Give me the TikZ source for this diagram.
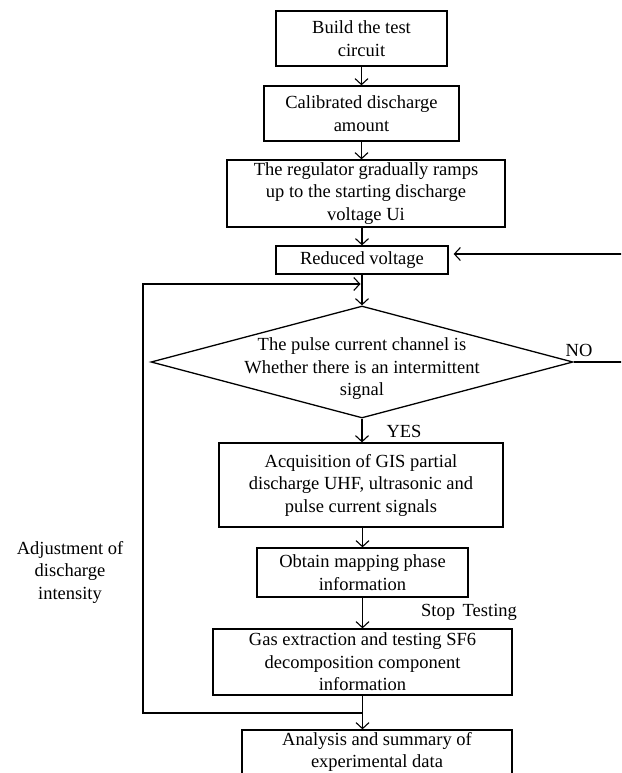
\documentclass[tikz,border=0pt]{standalone}
\usepackage{fontspec}
\setmainfont{Liberation Serif}
\usetikzlibrary{shapes.geometric}
\usetikzlibrary{arrows.meta}

\begin{document}
\begin{tikzpicture}[x=1pt,y=-1pt,line width=1.3pt,
    font=\fontsize{18.5}{22.5}\selectfont,
    box/.style={draw, rectangle, align=center, inner sep=0pt},
    arr/.style={-{Straight Barb[length=6pt,width=13pt,line width=1.1pt]}},
    lbl/.style={inner sep=0pt, align=center}
]
\useasboundingbox (0,0) rectangle (621,773);
\clip (0,0) rectangle (621,773);
\node[box, minimum width=171pt, minimum height=55pt] (build) at (361.5,38.5) {Build the test\\circuit};
\node[box, minimum width=195pt, minimum height=55pt] (calib) at (361.5,113.5) {Calibrated discharge\\amount};
\node[box, minimum width=278pt, minimum height=67pt] (ramp) at (366,193.5) {The regulator gradually ramps\\up to the starting discharge\\voltage Ui};
\node[box, minimum width=172pt, minimum height=28pt] (reduce) at (362,260) {Reduced voltage};
\node[draw, diamond, minimum width=422pt, minimum height=112pt, inner sep=0pt] (check) at (362,362) {};
\node[lbl] (checktext) at (362,369) {The pulse current channel is\\Whether there is an intermittent\\signal};
\node[box, minimum width=284pt, minimum height=84pt] (acquire) at (361,485) {Acquisition of GIS partial\\discharge UHF, ultrasonic and\\pulse current signals};
\node[box, minimum width=211pt, minimum height=49pt] (mapping) at (362.5,572.5) {Obtain mapping phase\\information};
\node[box, minimum width=299pt, minimum height=66pt] (gas) at (362.5,662) {Gas extraction and testing SF6\\decomposition component\\information};
\node[box, minimum width=270pt, minimum height=56pt] (summary) at (377,758) {};
\node[lbl] (summarytext) at (377,752) {Analysis and summary of\\experimental data};

\node[lbl] (no) at (579,350) {NO};
\node[lbl] (yes) at (404,431) {YES};
\node[lbl] (stop) at (469,612) {Stop\, Testing};
\node[lbl] (adjust) at (70,572) {Adjustment of\\discharge\\intensity};

\coordinate (fbtop) at (143,284);
\coordinate (fbbot) at (143,713);
\coordinate (noend) at (622,362);
\coordinate (back) at (622,254);

\draw[arr] (build) -- (calib);
\draw[arr] (calib.south) -- (ramp.north -| calib.south);
\draw[arr] (ramp.south -| reduce.north) -- (reduce.north);
\draw[arr] (reduce) -- (check.north);
\draw[arr] (check.south) -- (acquire.north -| check.south);
\draw[arr] (acquire.south -| mapping.north) -- (mapping.north);
\draw[arr] (mapping) -- (gas);
\draw[arr] (gas.south) -- (summary.north -| gas.south);
\draw[arr, shorten >=1.5pt] (fbbot -| gas.south) -- (fbbot) -- (fbtop) -- (fbtop -| reduce.south);
\draw (check.east) -- (noend);
\draw[arr, shorten >=5pt] (back) -- (back -| reduce.east);
\end{tikzpicture}
\end{document}
